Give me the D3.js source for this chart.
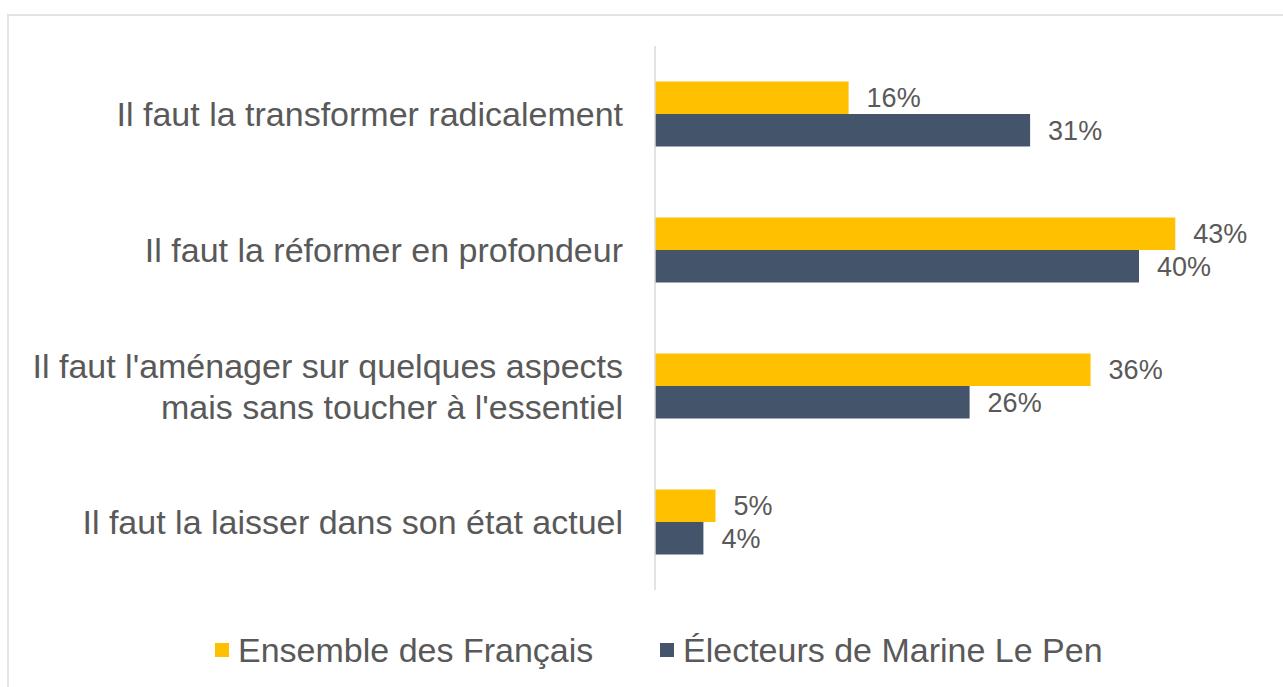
<!DOCTYPE html>
<html>
<head>
<meta charset="utf-8">
<script src="https://cdn.jsdelivr.net/npm/d3@7"></script>
<style>
  body { margin: 0; background: #fff; }
  text { font-family: "Liberation Sans", Arial, sans-serif; fill: #595959; }
</style>
</head>
<body>
<div id="chart"></div>
<script>
// Data
const categories = [
    "Il faut la transformer radicalement",
    "Il faut la réformer en profondeur",
    "Il faut l'aménager sur quelques aspects|mais sans toucher à l'essentiel",
    "Il faut la laisser dans son état actuel"
];
const seriesNames = ["Ensemble des Français", "Électeurs de Marine Le Pen"];
const ensemble = [16, 43, 36, 5];
const electeursLePen = [31, 40, 26, 4];
const seriesColors = ["#FFC000", "#44546A"];

const width = 1283;
const height = 687;
const margin = { top: 46, bottom: 97, left: 655 };

const svg = d3.select('#chart')
    .append('svg')
    .attr('width', width)
    .attr('height', height);

// frame
svg.append('path')
    .attr('d', `M8,${height} V15 H${width}`)
    .attr('fill', 'none')
    .attr('stroke', '#e3e3e3')
    .attr('stroke-width', 2);

// Scales
const yScale = d3.scaleBand()
    .domain(categories)
    .range([margin.top, height - margin.bottom])
    .paddingInner(0.522)
    .paddingOuter(0.261);

const ySub = d3.scaleBand()
    .domain(seriesNames)
    .range([0, yScale.bandwidth()]);

const xScale = d3.scaleLinear()
    .domain([0, 45])
    .range([margin.left, margin.left + 45 * 12.1]);

const color = d3.scaleOrdinal().domain(seriesNames).range(seriesColors);

const rows = categories.map((c, i) => ({
    cat: c,
    values: [
        { name: seriesNames[0], v: ensemble[i] },
        { name: seriesNames[1], v: electeursLePen[i] }
    ]
}));

// Bars
const groups = svg.append('g')
    .selectAll('g')
    .data(rows)
    .enter().append('g')
    .attr('transform', d => `translate(0,${yScale(d.cat)})`);

groups.selectAll('rect')
    .data(d => d.values)
    .enter().append('rect')
    .attr('x', xScale(0))
    .attr('y', d => ySub(d.name))
    .attr('width', d => xScale(d.v) - xScale(0))
    .attr('height', ySub.bandwidth())
    .attr('fill', d => color(d.name));

groups.selectAll('text.val')
    .data(d => d.values)
    .enter().append('text')
    .attr('class', 'val')
    .attr('x', d => xScale(d.v) + 18)
    .attr('y', d => ySub(d.name) + ySub.bandwidth() / 2)
    .attr('dy', '0.36em')
    .attr('font-size', 27)
    .text(d => d.v + '%');

// Axis line
svg.append('line')
    .attr('x1', xScale(0)).attr('x2', xScale(0))
    .attr('y1', margin.top).attr('y2', height - margin.bottom)
    .attr('stroke', '#d9d9d9')
    .attr('stroke-width', 1.5);

// Category labels
const labels = svg.append('g')
    .selectAll('text')
    .data(categories)
    .enter().append('text')
    .attr('text-anchor', 'end')
    .attr('font-size', 34)
    .attr('x', margin.left - 32)
    .attr('y', d => yScale(d) + yScale.bandwidth() / 2);

labels.each(function(d) {
    const parts = d.split('|');
    const t = d3.select(this);
    parts.forEach((p, i) => {
        t.append('tspan')
            .attr('x', margin.left - 32)
            .attr('dy', i === 0 ? `${0.36 - (parts.length - 1) * 0.6}em` : '1.2em')
            .text(p);
    });
});

// Legend
const legendItems = [
    { name: seriesNames[0], x: 215 },
    { name: seriesNames[1], x: 660 }
];
const legend = svg.append('g')
    .selectAll('g')
    .data(legendItems)
    .enter().append('g')
    .attr('transform', d => `translate(${d.x},650)`);

legend.append('rect')
    .attr('x', 0).attr('y', -7)
    .attr('width', 14).attr('height', 14)
    .attr('fill', d => color(d.name));

legend.append('text')
    .attr('x', 23)
    .attr('dy', '0.36em')
    .attr('font-size', 34)
    .text(d => d.name);
</script>
</body>
</html>
